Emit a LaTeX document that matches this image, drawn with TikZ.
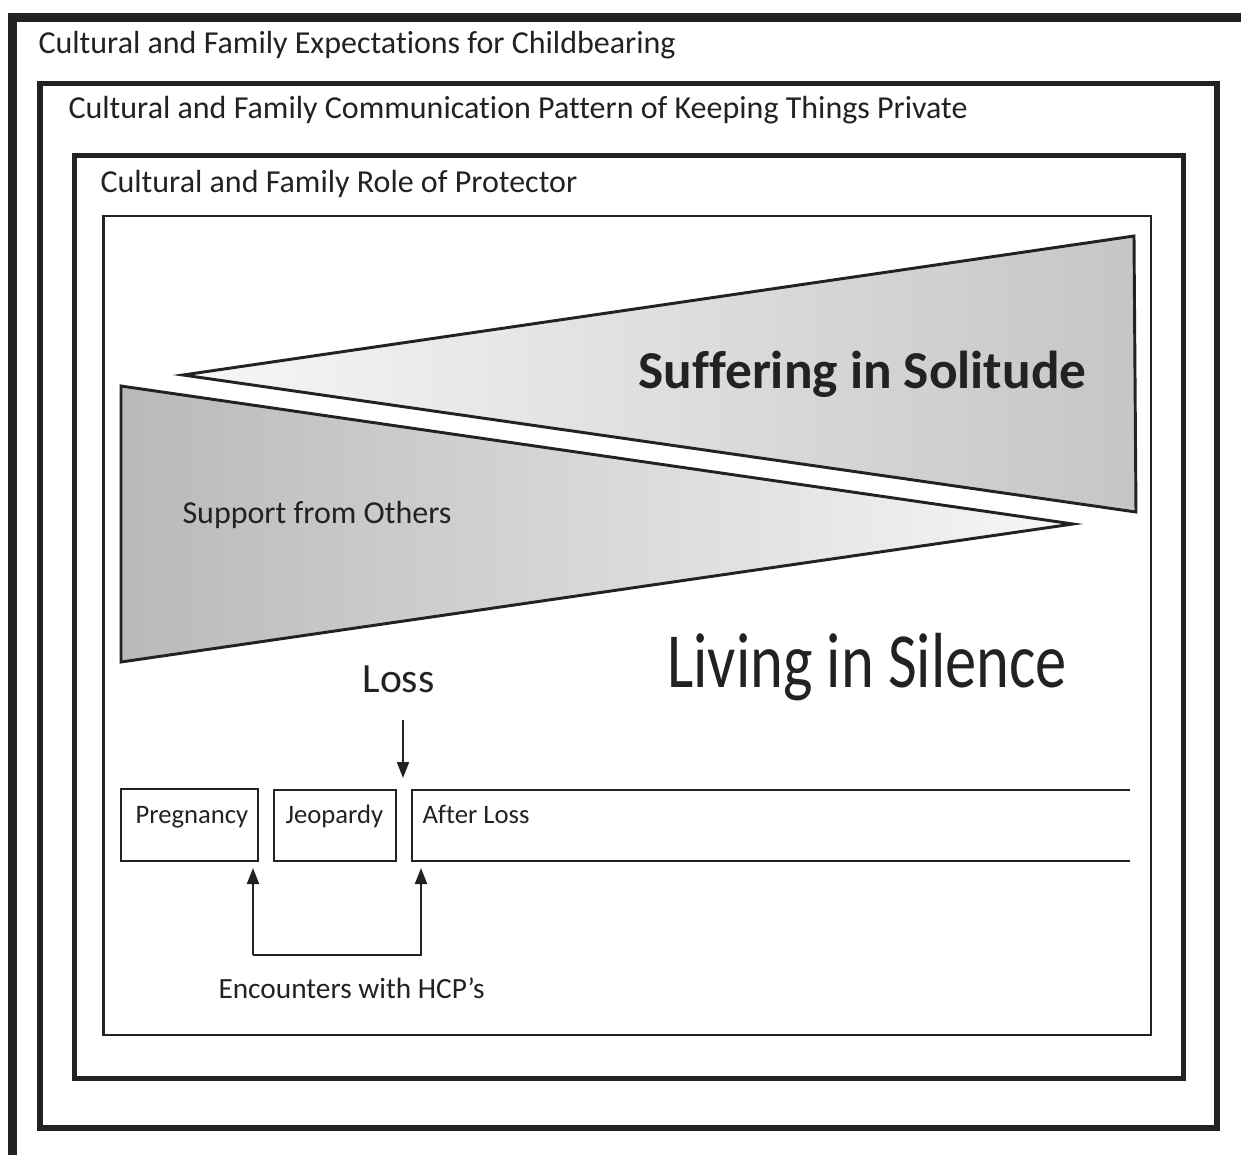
\documentclass[tikz,border=0pt]{standalone}
\usepackage{fontspec}
\setmainfont[Ligatures=NoCommon]{Carlito}
\usepackage{xcolor}
\usetikzlibrary{calc,
	positioning,
	arrows.meta}

\definecolor{ink}{HTML}{222222}

\tikzset{
	frame/.style={draw=ink, line join=miter},
	wedge/.style={draw=ink, line width=1.1pt, line join=miter},
	title/.style={anchor=base west, inner sep=0pt, text=ink, font=\fontsize{12}{14}\selectfont},
	phase/.style={draw=ink, line width=0.9pt, anchor=north west, inner sep=0pt, outer sep=0pt},
	phasetext/.style={anchor=base west, inner sep=0pt, text=ink, font=\fontsize{10}{12}\selectfont},
	link/.style={draw=ink, line width=0.75pt},
	tip/.style={-{Triangle[length=6pt, width=4.5pt]}}
}

\begin{document}
\begin{tikzpicture}[x=0.375pt, y=-0.375pt]
	\useasboundingbox (0, 0) rectangle (1241, 1155);
	\fill[white] (0, 0) rectangle (1241, 1155);
	\begin{scope}
		\clip (0, 0) rectangle (1241, 1155);
		\draw[frame, line width=3.2pt] (12.5, 17.5) rectangle (1270, 1180);
		\draw[frame, line width=2.2pt] (40, 83.5) rectangle (1217, 1128);
		\draw[frame, line width=1.8pt] (74.5, 155.5) rectangle (1183.5, 1078.5);
		\draw[frame, line width=1pt] (103.5, 216) rectangle (1151, 1035);
	\end{scope}
	\node[title] (expect) at (38, 53) {Cultural and Family Expectations for Childbearing};
	\node[title] (private) at (68, 118) {Cultural and Family Communication Pattern of Keeping Things Private};
	\node[title] (protector) at (100, 192) {Cultural and Family Role of Protector};

	\draw[wedge, left color=gray!6, right color=gray!45] (183, 375) -- (1134, 236) -- (1136, 512) -- cycle;
	\draw[wedge, left color=gray!55, right color=gray!6] (121, 386) -- (121, 662) -- (1073, 524) -- cycle;
	\node[anchor=base west, inner sep=0pt, text=ink, font=\fontsize{20}{24}\selectfont\bfseries] (solitude) at (638, 388) {Suffering in Solitude};
	\node[anchor=base west, inner sep=0pt, text=ink, font=\fontsize{12}{14}\selectfont] (support) at (182, 523) {Support from Others};
	\node[anchor=base west, inner sep=0pt, text=ink, xscale=0.8, font=\fontsize{29.3}{34}\selectfont] (silence) at (667, 687) {Living in Silence};
	\node[anchor=base west, inner sep=0pt, text=ink, font=\fontsize{15.6}{18}\selectfont] (loss) at (362, 692) {Loss};

	\node[phase, minimum width=137*0.375pt, minimum height=72*0.375pt] (preg) at (121, 789) {};
	\node[phase, minimum width=122*0.375pt, minimum height=71*0.375pt] (jeop) at (274, 790) {};
	\coordinate (after-top) at (412, 790);
	\coordinate (after-bot) at (412, 861);
	\draw[ink, line width=0.9pt] (after-top -| 1130, 0) -- (after-top) -- (after-bot) -- (after-bot -| 1130, 0);
	\node[phasetext] (preg-t) at ($(preg.north west)+(14, 34)$) {Pregnancy};
	\node[phasetext] (jeop-t) at ($(jeop.north west)+(11, 33)$) {Jeopardy};
	\node[phasetext] (after-t) at ($(after-top)+(10, 33)$) {After Loss};

	\coordinate (loss-top) at (403, 720);
	\draw[link, tip] (loss-top) -- ($(loss-top |- after-top)+(0, -12)$);

	\node[phasetext, font=\fontsize{11}{13}\selectfont] (hcp) at (218, 998) {Encounters with HCP’s};
	\coordinate (hcp-l) at (253, 955);
	\coordinate (hcp-r) at (421, 955);
	\draw[link, tip] (hcp-l) -- ($(hcp-l |- preg.south)+(0, 7)$);
	\draw[link, tip] (hcp-l) -- (hcp-r) -- ($(hcp-r |- after-bot)+(0, 7)$);
\end{tikzpicture}
\end{document}
